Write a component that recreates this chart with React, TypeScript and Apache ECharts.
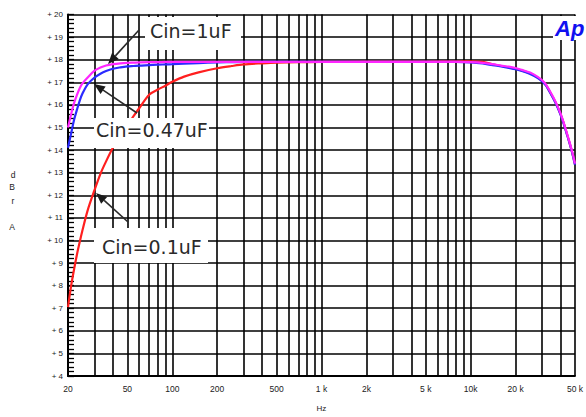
import React, { useEffect, useRef } from "react";
import * as echarts from "echarts";

// Frequencies (Hz) at which the curves were read
const freqs = [
  20, 21, 22, 23, 24, 25, 27, 30, 33, 36,
  40, 45, 50, 55, 60, 70, 80, 90, 100, 120,
  150, 200, 250, 300, 400, 500, 700, 1000, 2000, 5000,
  8000, 10000, 12000, 14000, 16000, 18000, 20000, 22000, 25000, 28000,
  30000, 32000, 34000, 36000, 38000, 40000, 42000, 44000, 46000, 48000,
  50000,
];

// dBrA values
const cin1uF = [
  15.0, 15.6, 16.1, 16.45, 16.75, 16.95, 17.2, 17.5, 17.65, 17.74,
  17.8, 17.84, 17.86, 17.87, 17.88, 17.89, 17.89, 17.9, 17.9, 17.9,
  17.9, 17.9, 17.9, 17.9, 17.9, 17.9, 17.9, 17.9, 17.9, 17.9,
  17.9, 17.89, 17.86, 17.8, 17.74, 17.69, 17.63, 17.55, 17.43, 17.25,
  17.1, 16.9, 16.6, 16.3, 15.98, 15.62, 15.22, 14.78, 14.35, 13.9,
  13.4,
];

const cin047uF = [
  14.1, 14.75, 15.35, 15.8, 16.2, 16.5, 16.9, 17.2, 17.38, 17.5,
  17.6, 17.66, 17.7, 17.72, 17.74, 17.76, 17.78, 17.79, 17.8, 17.82,
  17.85, 17.88, 17.89, 17.9, 17.9, 17.9, 17.9, 17.9, 17.9, 17.9,
  17.9, 17.88, 17.83, 17.76, 17.7, 17.64, 17.58, 17.5, 17.37, 17.2,
  17.05, 16.85, 16.55, 16.25, 15.93, 15.57, 15.17, 14.73, 14.3, 13.85,
  13.35,
];

const cin01uF = [
  7.05, 8.0, 8.75, 9.4, 9.95, 10.45, 11.3, 12.2, 12.95, 13.5,
  14.1, 14.65, 15.1, 15.5, 15.85, 16.45, 16.68, 16.85, 17.02, 17.25,
  17.44, 17.62, 17.72, 17.79, 17.84, 17.87, 17.89, 17.9, 17.91, 17.92,
  17.93, 17.93, 17.9, 17.8, 17.72, 17.66, 17.6, 17.52, 17.4, 17.22,
  17.07, 16.87, 16.57, 16.27, 15.95, 15.59, 15.19, 14.75, 14.32, 13.87,
  13.37,
];

// Vertical grid lines (Hz)
const gridFreqs = [
  20, 30, 40, 50, 60, 70, 80, 90,
  100, 200, 300, 400, 500, 600, 700, 800, 900,
  1000, 2000, 3000, 4000, 5000, 6000, 7000, 8000, 9000,
  10000, 20000, 30000, 40000, 50000,
];

// X tick labels
const labelFreqs = [20, 50, 100, 200, 500, 1000, 2000, 5000, 10000, 20000, 50000];
const labelTexts = ["20", "50", "100", "200", "500", "1 k", "2k", "5 k", "10k", "20 k", "50 k"];

// Y axis range
const yMin = 4;
const yMax = 20;

export default function App() {
  const ref = useRef<HTMLDivElement>(null);

  useEffect(() => {
    if (!ref.current) return;
    const chart = echarts.init(ref.current, null, { renderer: "svg" });
    const lg = (f: number) => Math.log10(f);
    const toData = (vals: number[]) => freqs.map((f, i) => [lg(f), vals[i]]);
    const labelMap: Record<number, string> = {};
    labelFreqs.forEach((f, i) => (labelMap[f] = labelTexts[i]));

    const arrow = (tail: number[], tip: number[]) => {
      const dx = tip[0] - tail[0];
      const dy = tip[1] - tail[1];
      const L = Math.sqrt(dx * dx + dy * dy);
      const ux = dx / L, uy = dy / L;
      const nx = -uy, ny = ux;
      const hl = 11, hw = 4.5;
      const bx = tip[0] - ux * hl, by = tip[1] - uy * hl;
      return [
        {
          type: "line",
          z: 100,
          shape: { x1: tail[0], y1: tail[1], x2: bx, y2: by },
          style: { stroke: "#2a2a2a", lineWidth: 1.6 },
        },
        {
          type: "polygon",
          z: 100,
          shape: {
            points: [
              [tip[0], tip[1]],
              [bx + nx * hw, by + ny * hw],
              [bx - nx * hw, by - ny * hw],
            ],
          },
          style: { fill: "#1a1a1a" },
        },
      ];
    };

    const box = (x: number, y: number, w: number, h: number) => ({
      type: "rect",
      z: 99,
      shape: { x, y, width: w, height: h },
      style: { fill: "#fff" },
    });

    const label = (x: number, y: number, text: string) => ({
      type: "text",
      z: 101,
      x,
      y,
      style: {
        text,
        fill: "#2a2a2a",
        font: "19px 'DejaVu Sans'",
        verticalAlign: "middle",
        align: "left",
      },
    });

    const smallText = (x: number, y: number, text: string) => ({
      type: "text",
      z: 101,
      x,
      y,
      style: {
        text,
        fill: "#222",
        font: "8.5px 'Liberation Sans'",
        align: "center",
        verticalAlign: "middle",
      },
    });

    const option: any = {
      animation: false,
      backgroundColor: "#fff",
      grid: { left: 68, right: -4, top: 14.5, bottom: 32.7, containLabel: false },
      xAxis: {
        type: "value",
        min: lg(20),
        max: lg(50000),
        name: "Hz",
        nameLocation: "middle",
        nameGap: 28,
        nameTextStyle: { fontSize: 8, color: "#222", fontFamily: "Liberation Sans" },
        axisLine: { show: true, lineStyle: { color: "#000", width: 2 } },
        axisTick: { show: false, customValues: gridFreqs.map(lg) },
        axisLabel: {
          customValues: labelFreqs.map(lg),
          formatter: (v: number) => labelMap[Math.round(Math.pow(10, v))] ?? "",
          fontSize: 8.5,
          color: "#222",
          fontFamily: "Liberation Sans",
          margin: 8,
        },
        splitLine: { show: true, lineStyle: { color: "#000", width: 1.6 } },
      },
      yAxis: {
        type: "value",
        min: yMin,
        max: yMax,
        interval: 1,
        axisLine: { show: true, lineStyle: { color: "#000", width: 2 } },
        axisTick: { show: true, inside: true, length: 6, lineStyle: { color: "#000", width: 1.3 } },
        minorTick: { show: true, splitNumber: 5, length: 6, lineStyle: { color: "#000", width: 1.3 } },
        axisLabel: {
          formatter: (v: number) => "+ " + v,
          fontSize: 8,
          color: "#222",
          fontFamily: "Liberation Sans",
          margin: 5,
        },
        splitLine: { show: true, lineStyle: { color: "#000", width: 1.6 } },
      },
      series: [
        {
          name: "Cin=0.1uF",
          type: "line",
          data: toData(cin01uF),
          symbol: "none",
          smooth: 0.3,
          z: 3,
          lineStyle: { color: "#ff1f1f", width: 2.2 },
        },
        {
          name: "Cin=0.47uF",
          type: "line",
          data: toData(cin047uF),
          symbol: "none",
          smooth: 0.3,
          z: 4,
          lineStyle: { color: "#2b2bff", width: 2.2 },
        },
        {
          name: "Cin=1uF",
          type: "line",
          data: toData(cin1uF),
          symbol: "none",
          smooth: 0.3,
          z: 5,
          lineStyle: { color: "#ff26ff", width: 2.2 },
        },
      ],
      graphic: [
        box(145, 17, 96, 33),
        label(150, 31, "Cin=1uF"),
        ...arrow([139, 30], [108, 64]),
        box(94, 118, 115, 30),
        label(96, 130, "Cin=0.47uF"),
        ...arrow([137, 113], [94, 84]),
        box(94, 228, 114, 35),
        label(102, 247, "Cin=0.1uF"),
        ...arrow([128, 222], [96, 193]),
        box(553, 16, 40, 24),
        {
          type: "text",
          z: 101,
          x: 555,
          y: 28,
          style: {
            text: "Ap",
            fill: "#1010f0",
            font: "italic bold 22px 'Liberation Sans'",
            verticalAlign: "middle",
            align: "left",
          },
        },
        smallText(13, 175, "d"),
        smallText(12, 187, "B"),
        smallText(13, 201, "r"),
        smallText(12, 227, "A"),
      ],
    };

    chart.setOption(option);
    return () => chart.dispose();
  }, []);

  return (
    <div
      ref={ref}
      style={{ position: "fixed", left: 0, top: 0, width: 586, height: 417, background: "#fff" }}
    />
  );
}
